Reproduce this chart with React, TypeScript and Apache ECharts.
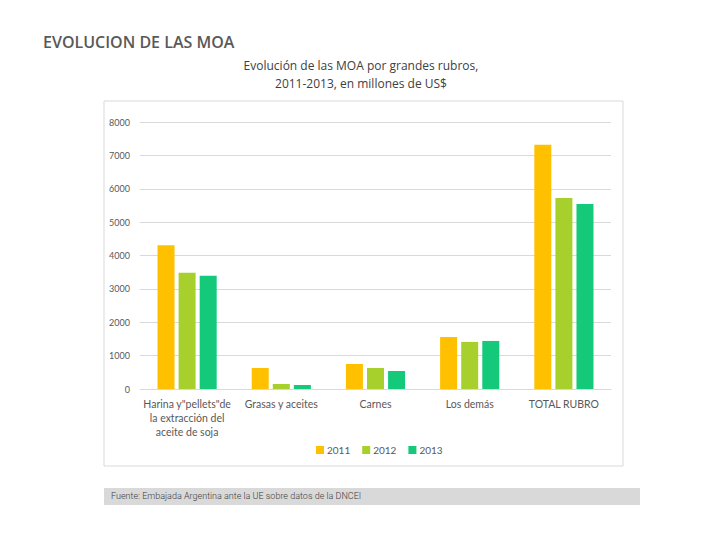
import React, { useEffect, useRef } from "react";
import * as echarts from "echarts";

const categories = [
  'Harina y"pellets"de\nla extracción del\naceite de soja',
  "Grasas y aceites",
  "Carnes",
  "Los demás",
  "TOTAL RUBRO",
];
const years = ["2011", "2012", "2013"];
const values2011 = [4310, 630, 750, 1560, 7320];
const values2012 = [3480, 150, 630, 1410, 5720];
const values2013 = [3390, 120, 540, 1440, 5540];
const colors = ["#FFC000", "#A8D02C", "#14C97A"];

export default function App() {
  const ref = useRef<HTMLDivElement>(null);
  useEffect(() => {
    const chart = echarts.init(ref.current!, undefined, { renderer: "svg" });
    const seriesData = [values2011, values2012, values2013];
    chart.setOption({
      animation: false,
      backgroundColor: "#ffffff",
      textStyle: { fontFamily: "Lato" },
      graphic: [
        {
          type: "rect",
          shape: { x: 104, y: 101, width: 519, height: 365 },
          style: { fill: "none", stroke: "#D9D9D9", lineWidth: 1 },
          z: -1,
        },
        {
          type: "rect",
          shape: { x: 104, y: 488, width: 536, height: 17 },
          style: { fill: "#D9D9D9" },
        },
        {
          type: "text",
          x: 111,
          y: 496,
          style: {
            text: "Fuente: Embajada Argentina ante la UE sobre datos de la DNCEI",
            fontFamily: "Roboto",
            fontSize: 9,
            fontWeight: 300,
            fill: "#404040",
            verticalAlign: "middle",
          },
        },
        {
          type: "text",
          x: 43,
          y: 42,
          style: {
            text: "EVOLUCION DE LAS MOA",
            fontFamily: "Open Sans",
            fontSize: 16,
            fontWeight: 600,
            fill: "#595959",
            verticalAlign: "middle",
          },
        },
        {
          type: "text",
          x: 361,
          y: 74,
          style: {
            text: "Evolución de las MOA por grandes rubros,\n2011-2013, en millones de US$",
            fontFamily: "Open Sans",
            fontSize: 12,
            lineHeight: 18,
            fill: "#404040",
            align: "center",
            verticalAlign: "middle",
          },
        },
      ],
      legend: {
        data: years,
        left: 311,
        top: 440,
        itemWidth: 8,
        itemHeight: 8,
        itemGap: 12,
        icon: "rect",
        textStyle: { fontSize: 10, color: "#595959", padding: [0, 0, 0, -2] },
      },
      grid: { left: 140, right: 109, top: 122, bottom: 151 },
      xAxis: {
        type: "category",
        data: categories,
        axisLine: { lineStyle: { color: "#D9D9D9" } },
        axisTick: { show: false },
        axisLabel: {
          color: "#595959",
          fontSize: 10.5,
          lineHeight: 14,
          margin: 8,
          interval: 0,
        },
      },
      yAxis: {
        type: "value",
        min: 0,
        max: 8000,
        interval: 1000,
        axisLine: { show: false },
        axisTick: { show: false },
        splitLine: { lineStyle: { color: "#D9D9D9" } },
        axisLabel: {
          color: "#595959",
          fontSize: 9,
          margin: 10,
          formatter: (v: number) => String(v),
        },
      },
      series: years.map((y, i) => ({
        name: y,
        type: "bar",
        data: seriesData[i],
        barWidth: 17,
        barGap: "24%",
        itemStyle: { color: colors[i] },
      })),
    });
    return () => chart.dispose();
  }, []);
  return (
    <div
      ref={ref}
      style={{ position: "fixed", left: 0, top: 0, width: 720, height: 540 }}
    />
  );
}
